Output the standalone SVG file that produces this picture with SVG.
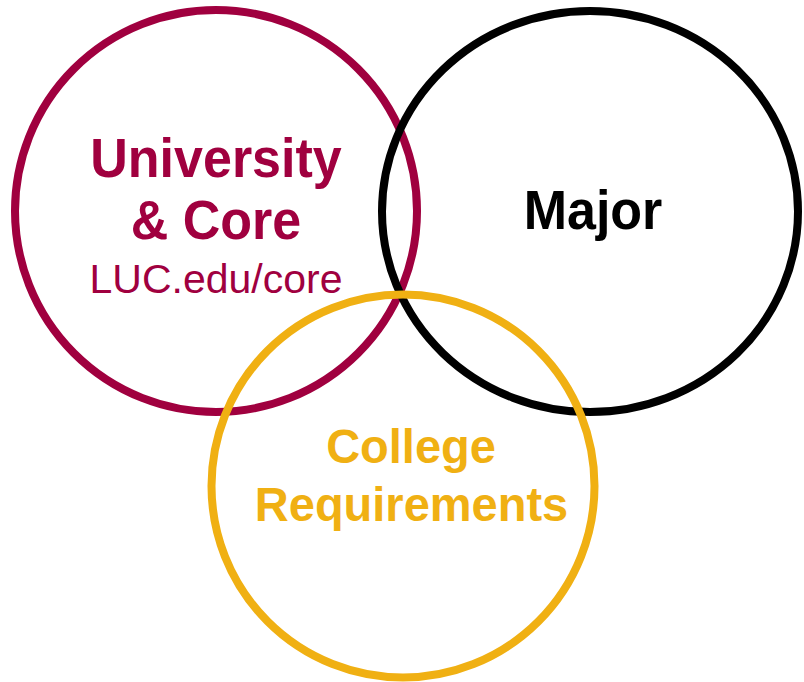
<svg xmlns="http://www.w3.org/2000/svg" width="804" height="682" viewBox="0 0 804 682">
<style>
.ring{fill:none;stroke-width:8}
.b{font-family:"Liberation Sans",Arial,sans-serif;font-weight:bold;text-anchor:middle}
.r{font-family:"Liberation Sans",Arial,sans-serif;text-anchor:middle}
</style>
<rect width="804" height="682" fill="#ffffff"/>
<g id="university-core">
<circle class="ring" cx="216" cy="211" r="201" stroke="#A0003F"/>
<text class="b" transform="translate(216,177) scale(1,1.06)" x="0" y="0" font-size="52" fill="#A0003F">University</text>
<text class="b" transform="translate(216,239) scale(1,1.06)" x="0" y="0" font-size="52" fill="#A0003F">&amp; Core</text>
<text class="r" x="216" y="293" font-size="41" fill="#A0003F">LUC.edu/core</text>
</g>
<g id="major">
<ellipse class="ring" cx="590" cy="211.5" rx="208" ry="200.5" stroke="#000000"/>
<text class="b" transform="translate(593,229) scale(1,1.07)" x="0" y="0" font-size="52" fill="#000000">Major</text>
</g>
<g id="college">
<circle class="ring" cx="403" cy="486" r="191.5" stroke="#F0B013"/>
<text class="b" transform="translate(411,463) scale(1,1.04)" x="0" y="0" font-size="47" fill="#F0B013">College</text>
<text class="b" transform="translate(411.5,521) scale(1,1.04)" x="0" y="0" font-size="47" fill="#F0B013">Requirements</text>
</g>
<g id="connectors"/>
</svg>
